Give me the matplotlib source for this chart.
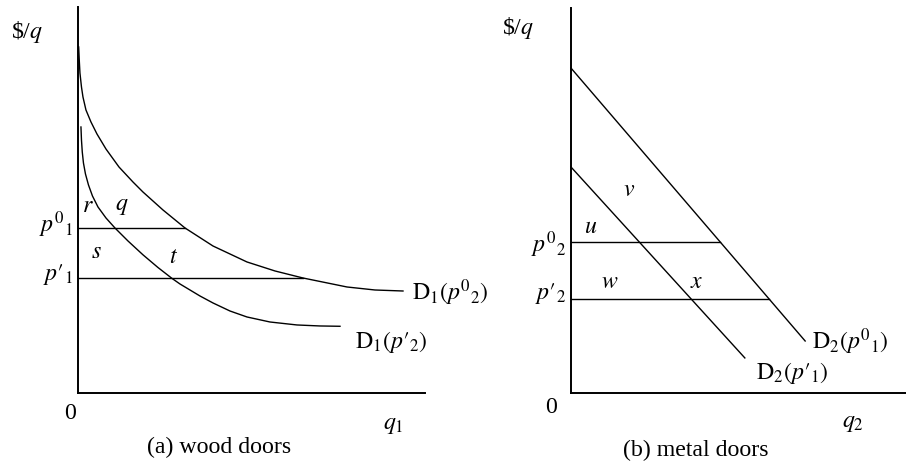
import matplotlib
matplotlib.use('Agg')
import matplotlib.pyplot as plt
import numpy as np

plt.rcParams['font.family'] = ['Liberation Serif', 'DejaVu Serif']
plt.rcParams['mathtext.fontset'] = 'stix'

# (a) wood doors: demand for q1 at two prices of metal doors
q1_hi = [0.006, 0.023, 0.043, 0.087, 0.130, 0.216, 0.361, 0.534, 0.794,
         1.169, 1.573, 1.861, 2.439, 3.074, 3.882, 4.863, 5.671, 6.479,
         7.749, 8.557, 9.365]
p1_hi = [8.964, 8.627, 8.290, 7.927, 7.668, 7.332, 7.021, 6.710, 6.321,
         5.855, 5.466, 5.207, 4.741, 4.275, 3.808, 3.394, 3.161, 2.979,
         2.746, 2.668, 2.642]
q1_lo = [0.072, 0.087, 0.110, 0.144, 0.202, 0.289, 0.404, 0.563, 0.794,
         1.053, 1.429, 1.861, 2.294, 2.698, 2.929, 3.506, 3.882, 4.372,
         4.863, 5.527, 6.306, 6.970, 7.547]
p1_lo = [6.891, 6.554, 6.244, 5.959, 5.674, 5.389, 5.104, 4.819, 4.534,
         4.275, 3.938, 3.580, 3.251, 2.969, 2.824, 2.513, 2.332, 2.124,
         1.969, 1.839, 1.762, 1.736, 1.728]
p1_levels = [4.27, 2.98]

# (b) metal doors: linear demand for q2
q2_hi = [0.0, 6.99]
p2_hi = [8.44, 1.35]
q2_lo = [0.0, 5.19]
p2_lo = [5.87, 0.91]
p2_levels = [3.92, 2.44]

FS = 17.2
LW = 1.0

fig = plt.figure(figsize=(9.06, 4.66), dpi=100)
fig.patch.set_facecolor('white')
ax1 = fig.add_axes([0.0866, 0.1567, 0.3825, 0.8283])
ax2 = fig.add_axes([0.6302, 0.1567, 0.3698, 0.8262])

for ax in (ax1, ax2):
    ax.set_xlim(0, 10)
    ax.set_ylim(0, 10)
    ax.set_xticks([])
    ax.set_yticks([])
    for side in ('top', 'right'):
        ax.spines[side].set_visible(False)
    for side in ('left', 'bottom'):
        ax.spines[side].set_linewidth(1.4)
    ax.patch.set_alpha(0)

# --- wood doors
ax1.plot(q1_hi, p1_hi, color='black', lw=LW, clip_on=False)
ax1.plot(q1_lo, p1_lo, color='black', lw=LW, clip_on=False)
for p in p1_levels:
    q_end = np.interp(p, p1_hi[::-1], q1_hi[::-1])
    ax1.plot([0, q_end], [p, p], color='black', lw=LW)

kw = dict(fontsize=FS, clip_on=False)
ax1.text(-1.49, 9.35, r'\$/$q$', ha='center', va='center', **kw)
ax1.text(-0.15, p1_levels[0] + 0.08, r'$p^{0}{}_{1}$', ha='right', va='center', **kw)
ax1.text(-0.15, p1_levels[1] + 0.08, r'$p\prime_{1}$', ha='right', va='center', **kw)
ax1.text(0.28, 4.82, '$r$', ha='center', va='center', **kw)
ax1.text(1.26, 4.82, '$q$', ha='center', va='center', **kw)
ax1.text(0.53, 3.65, '$s$', ha='center', va='center', **kw)
ax1.text(2.73, 3.50, '$t$', ha='center', va='center', **kw)
ax1.text(-0.25, -0.52, '0', ha='center', va='center', **kw)
ax1.text(9.08, -0.83, '$q_1$', ha='center', va='center', **kw)
ax1.text(4.06, -1.40, '(a) wood doors', ha='center', va='center', **kw)
ax1.text(9.62, 2.59, r'$\mathrm{D}_1(p^{0}{}_{2})$', ha='left', va='center', **kw)
ax1.text(7.98, 1.32, r'$\mathrm{D}_1(p\prime_{2})$', ha='left', va='center', **kw)

# --- metal doors
ax2.plot(q2_hi, p2_hi, color='black', lw=LW, clip_on=False)
ax2.plot(q2_lo, p2_lo, color='black', lw=LW, clip_on=False)
for p in p2_levels:
    q_end = np.interp(p, p2_hi[::-1], q2_hi[::-1])
    ax2.plot([0, q_end], [p, p], color='black', lw=LW)

ax2.text(-1.58, 9.48, r'\$/$q$', ha='center', va='center', **kw)
ax2.text(-0.15, p2_levels[0] - 0.08, r'$p^{0}{}_{2}$', ha='right', va='center', **kw)
ax2.text(-0.15, p2_levels[1] + 0.15, r'$p\prime_{2}$', ha='right', va='center', **kw)
ax2.text(0.60, 4.31, '$u$', ha='center', va='center', **kw)
ax2.text(1.73, 5.27, '$v$', ha='center', va='center', **kw)
ax2.text(1.16, 2.86, '$w$', ha='center', va='center', **kw)
ax2.text(3.76, 2.86, '$x$', ha='center', va='center', **kw)
ax2.text(-0.60, -0.39, '0', ha='center', va='center', **kw)
ax2.text(8.42, -0.78, '$q_2$', ha='center', va='center', **kw)
ax2.text(3.73, -1.48, '(b) metal doors', ha='center', va='center', **kw)
ax2.text(7.19, 1.32, r'$\mathrm{D}_2(p^{0}{}_{1})$', ha='left', va='center', **kw)
ax2.text(5.52, 0.52, r'$\mathrm{D}_2(p\prime_{1})$', ha='left', va='center', **kw)

plt.savefig('out.png', dpi=100, facecolor='white')
plt.close()
